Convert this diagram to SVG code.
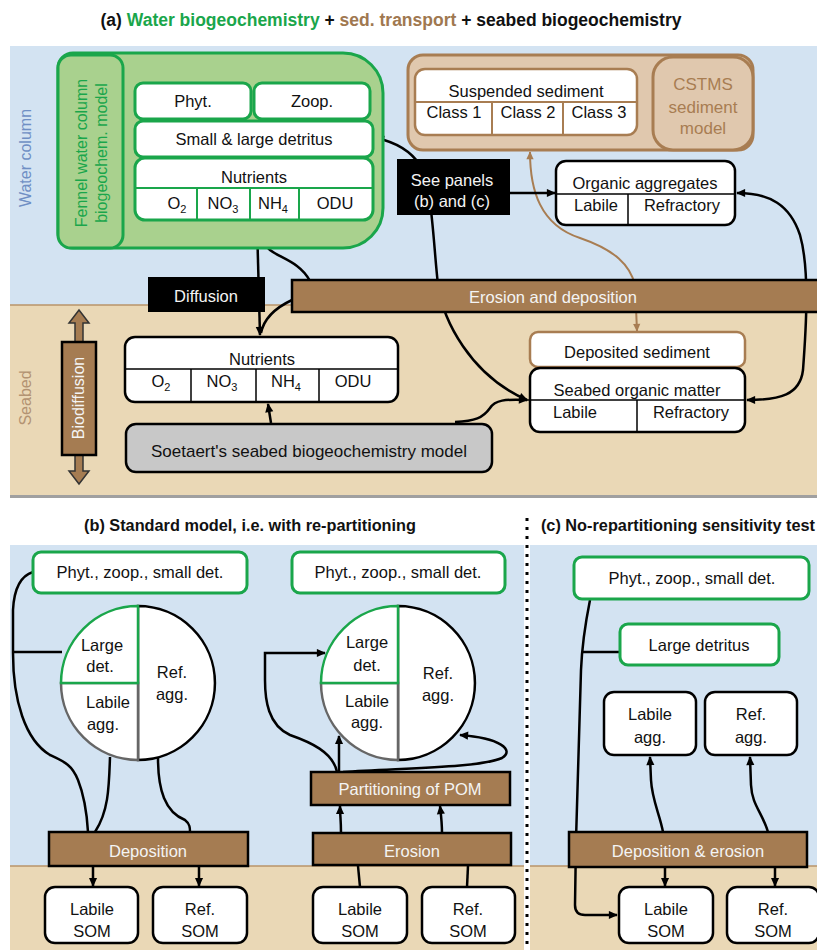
<svg xmlns="http://www.w3.org/2000/svg" width="817" height="950" viewBox="0 0 817 950">
<defs>
<marker id="ah" viewBox="0 0 10 10" refX="9" refY="5" markerWidth="10" markerHeight="9" markerUnits="userSpaceOnUse" orient="auto-start-reverse"><path d="M0,0.5 L10,5 L0,9.5 z" fill="#000"/></marker>
<marker id="ahb" viewBox="0 0 10 10" refX="9" refY="5" markerWidth="9" markerHeight="8" markerUnits="userSpaceOnUse" orient="auto-start-reverse"><path d="M0,0.5 L10,5 L0,9.5 z" fill="#a87d52"/></marker>
</defs>
<style>
text{font-family:"Liberation Sans",Arial,sans-serif;font-size:16.5px;fill:#111;text-anchor:middle}
.ttl{font-weight:bold;font-size:16.3px}
.box{fill:#fff;stroke:#000;stroke-width:2.5}
.gbox{fill:#fff;stroke:#1aa64b;stroke-width:3}
.bbox{fill:#fff;stroke:#a87d52;stroke-width:2.5}
.bar{fill:#a57c52;stroke:#000;stroke-width:2.5}
.wt{fill:#f4f4f4}
.blk{fill:#000}
.gl{stroke:#1aa64b;stroke-width:2}
.kl{stroke:#000;stroke-width:1.5}
.bl{stroke:#a87d52;stroke-width:2}
.c{fill:none;stroke:#000;stroke-width:2.5}
.cb{fill:none;stroke:#a87d52;stroke-width:2}
.water{fill:#d3e3f2}
.sed{fill:#ead8b6}
.sub{font-size:11px}
</style>
<rect width="817" height="950" fill="#fff"/>
<g id="backgrounds">
<rect class="water" x="10" y="46" width="807" height="259"/>
<rect class="sed" x="10" y="305" width="807" height="190"/>
<rect x="10" y="495" width="807" height="3" fill="#a0a0a0"/>
<line x1="10" y1="305" x2="817" y2="305" stroke="#b8946a" stroke-width="1.5"/>
<rect class="water" x="10" y="545" width="514" height="321"/>
<rect class="sed" x="10" y="866" width="514" height="84"/>
<line x1="10" y1="866" x2="524" y2="866" stroke="#b8946a" stroke-width="1.5"/>
<rect class="water" x="530" y="545" width="287" height="321"/>
<rect class="sed" x="530" y="866" width="287" height="84"/>
<line x1="530" y1="866" x2="817" y2="866" stroke="#b8946a" stroke-width="1.5"/>
<line x1="527" y1="518" x2="527" y2="950" stroke="#000" stroke-width="3" stroke-dasharray="3,6"/>
</g>
<g id="titles">
<text class="ttl" x="391" y="26" style="font-size:17.5px">(a)  <tspan fill="#1aa64b">Water biogeochemistry</tspan> + <tspan fill="#a07850">sed. transport</tspan> + seabed biogeochemistry</text>
<text class="ttl" x="250" y="531">(b) Standard model, i.e. with re-partitioning</text>
<text class="ttl" x="678" y="531">(c) No-repartitioning sensitivity test</text>
<text x="26" y="158" transform="rotate(-90 26 158)" style="fill:#6f8fc4;font-size:16px" dy="5">Water column</text>
<text x="26" y="398" transform="rotate(-90 26 398)" style="fill:#b39372;font-size:16px" dy="5">Seabed</text>
</g>
<g id="connectors">
<path class="c" d="M257,224 L260,335" marker-start="url(#ah)" marker-end="url(#ah)"/>
<path class="c" d="M310,281 C300,262 280,258 270,250 C262,243 258,235 257,228"/>
<path class="c" d="M292,300 C275,308 264,318 261,333"/>
<path class="c" d="M376,138 C395,142 410,150 420,165 C432,185 433,240 438,285 C443,320 470,375 527,400" marker-start="url(#ah)" marker-end="url(#ah)"/>
<path class="c" d="M737,193 C770,193 790,205 800,235 C810,270 806,330 803,370 C800,395 780,400 747,400" marker-start="url(#ah)" marker-end="url(#ah)"/>
<path class="cb" d="M530,152 C530,190 540,225 580,238 C615,250 630,265 635,285 L637,331" marker-start="url(#ahb)" marker-end="url(#ahb)"/>
<path class="c" d="M271,423 L268,404" marker-end="url(#ah)"/>
<path class="c" d="M455,422 C475,421 483,418 490,408 C495,400 505,399 527,400" marker-end="url(#ah)"/>
<path class="c" d="M509,193 L555,193" marker-end="url(#ah)"/>
<path class="c" d="M33,572 C20,576 14,590 13,610 L13,653 C13,700 25,740 50,755 C65,762 72,765 78,780 C84,795 87,815 88,832"/>
<path class="c" d="M13,652 L62,652"/>
<path class="c" d="M110,757 C109,790 108,812 95,832"/>
<path class="c" d="M158,758 C158,790 165,812 185,820 C190,824 190,828 190,832"/>
<path class="c" d="M93,866 L93,886" marker-end="url(#ah)"/>
<path class="c" d="M199,866 L199,886" marker-end="url(#ah)"/>
<path class="c" d="M360,887 L358,866"/>
<path class="c" d="M467,887 L468,866"/>
<path class="c" d="M341,833 C341,820 340,815 340,806" marker-end="url(#ah)"/>
<path class="c" d="M442,833 C442,822 441,815 440,806" marker-end="url(#ah)"/>
<path class="c" d="M339,772 L339,736" marker-end="url(#ah)"/>
<path class="c" d="M337,772 C333,752 310,742 290,735 C268,725 265,700 265,680 L265,653 L325,653" marker-end="url(#ah)"/>
<path class="c" d="M343,772 C400,768 480,768 502,758 C515,750 500,738 460,735" marker-end="url(#ah)"/>
<path class="c" d="M590,600 C585,625 582,645 581,670 L576,840 L575,905 Q575,915 585,915 L617,915" marker-end="url(#ah)"/>
<path class="c" d="M582,652 L620,652"/>
<path class="c" d="M663,832 C660,815 652,800 651,780 L650,757" marker-end="url(#ah)"/>
<path class="c" d="M768,832 C762,812 752,805 751,785 L750,757" marker-end="url(#ah)"/>
<path class="c" d="M665,867 L665,886" marker-end="url(#ah)"/>
<path class="c" d="M775,867 L775,886" marker-end="url(#ah)"/>
</g>
<g id="fennel">
<path d="M73,53 H343 A40,40 0 0 1 383,93 V208 A40,40 0 0 1 343,248 H73 A15,15 0 0 1 58,233 V68 A15,15 0 0 1 73,53 Z" fill="#a9d18e" stroke="#1aa64b" stroke-width="3"/>
<rect x="58" y="55" width="65" height="193" rx="13" fill="#a9d18e" stroke="#1aa64b" stroke-width="3"/>
<text transform="rotate(-90 82 153)" x="82" y="153" dy="5" style="fill:#1aa64b;font-size:16px">Fennel water column</text>
<text transform="rotate(-90 102 153)" x="102" y="153" dy="5" style="fill:#1aa64b;font-size:16px">biogeochem. model</text>
</g>
<g id="w-phyt"><rect class="gbox" x="135" y="83" width="116" height="36" rx="8"/><text x="193" y="107">Phyt.</text></g>
<g id="w-zoop"><rect class="gbox" x="254" y="83" width="116" height="36" rx="8"/><text x="312" y="107">Zoop.</text></g>
<g id="w-detritus"><rect class="gbox" x="135" y="121" width="238" height="36" rx="8"/><text x="254" y="145">Small &amp; large detritus</text></g>
<g id="w-nutrients">
<rect class="gbox" x="135" y="158" width="238" height="62" rx="10"/>
<line class="gl" x1="135" y1="188" x2="373" y2="188"/>
<line class="gl" x1="197" y1="188" x2="197" y2="220"/>
<line class="gl" x1="250" y1="188" x2="250" y2="220"/>
<line class="gl" x1="299" y1="188" x2="299" y2="220"/>
<text x="254" y="183">Nutrients</text>
<text x="177" y="209">O<tspan class="sub" dy="4">2</tspan></text>
<text x="223" y="209">NO<tspan class="sub" dy="4">3</tspan></text>
<text x="273" y="209">NH<tspan class="sub" dy="4">4</tspan></text>
<text x="335" y="209">ODU</text>
</g>
<g id="cstms">
<rect x="408" y="55" width="345" height="95" rx="15" fill="#e0c8ae" stroke="#a87d52" stroke-width="3"/>
<rect x="653" y="57" width="100" height="93" rx="20" fill="#e0c8ae" stroke="#a87d52" stroke-width="3"/>
<text x="703" y="90" style="fill:#a87d52;font-size:17px">CSTMS</text>
<text x="703" y="113" style="fill:#a87d52;font-size:17px">sediment</text>
<text x="703" y="134" style="fill:#a87d52;font-size:17px">model</text>
</g>
<g id="susp-sed">
<rect class="bbox" x="415" y="69" width="222" height="66" rx="10"/>
<line class="bl" x1="415" y1="102" x2="637" y2="102"/>
<line class="bl" x1="492" y1="102" x2="492" y2="135"/>
<line class="bl" x1="563" y1="102" x2="563" y2="135"/>
<text x="526" y="97">Suspended sediment</text>
<text x="454" y="118">Class 1</text>
<text x="528" y="118">Class 2</text>
<text x="599" y="118">Class 3</text>
</g>
<g id="see-panels"><rect class="blk" x="397" y="159" width="113" height="56"/><text class="wt" x="452" y="186">See panels</text><text class="wt" x="452" y="207">(b) and (c)</text></g>
<g id="org-agg">
<rect class="box" x="556" y="161" width="179" height="64" rx="10"/>
<line class="kl" x1="556" y1="194" x2="735" y2="194"/>
<line class="kl" x1="628" y1="194" x2="628" y2="225"/>
<text x="645" y="189">Organic aggregates</text>
<text x="596" y="211">Labile</text>
<text x="682" y="211">Refractory</text>
</g>
<g id="erosion-deposition"><rect class="bar" x="292" y="280" width="528" height="32"/><text class="wt" x="553" y="303">Erosion and deposition</text></g>
<g id="diffusion"><rect class="blk" x="148" y="277" width="117" height="35"/><text class="wt" x="206" y="302">Diffusion</text></g>
<g id="biodiffusion">
<path d="M79,310 L89,323 L83,323 L83,342 L75,342 L75,323 L69,323 Z" fill="#a57c52" stroke="#333" stroke-width="1.5"/>
<path d="M79,484 L89,471 L83,471 L83,455 L75,455 L75,471 L69,471 Z" fill="#a57c52" stroke="#333" stroke-width="1.5"/>
<rect class="bar" x="62" y="342" width="34" height="113"/>
<text class="wt" transform="rotate(-90 79 398)" x="79" y="398" dy="5" style="font-size:16px">Biodiffusion</text>
</g>
<g id="s-nutrients">
<rect class="box" x="125" y="337" width="273" height="65" rx="10"/>
<line class="kl" x1="125" y1="369" x2="398" y2="369"/>
<line class="kl" x1="191" y1="369" x2="191" y2="402"/>
<line class="kl" x1="256" y1="369" x2="256" y2="402"/>
<line class="kl" x1="319" y1="369" x2="319" y2="402"/>
<text x="262" y="365">Nutrients</text>
<text x="161" y="387">O<tspan class="sub" dy="4">2</tspan></text>
<text x="222" y="387">NO<tspan class="sub" dy="4">3</tspan></text>
<text x="286" y="387">NH<tspan class="sub" dy="4">4</tspan></text>
<text x="353" y="387">ODU</text>
</g>
<g id="soetaert"><rect x="126" y="424" width="366" height="48" rx="10" fill="#c8c8c8" stroke="#000" stroke-width="2.5"/><text x="309" y="457" style="font-size:17px">Soetaert's seabed biogeochemistry model</text></g>
<g id="dep-sed"><rect class="bbox" x="530" y="332" width="215" height="35" rx="8"/><text x="637" y="358">Deposited sediment</text></g>
<g id="seabed-om">
<rect class="box" x="530" y="368" width="215" height="64" rx="10"/>
<line class="kl" x1="527" y1="400" x2="745" y2="400"/>
<line class="kl" x1="637" y1="400" x2="637" y2="432"/>
<text x="637" y="396">Seabed organic matter</text>
<text x="575" y="418">Labile</text>
<text x="691" y="418">Refractory</text>
</g>
<g id="b1-phyt"><rect class="gbox" x="33" y="552" width="214" height="41" rx="8"/><text x="140" y="578">Phyt., zoop., small det.</text></g>
<g id="b1-pie">
<path d="M138,606 A77,77 0 0 1 138,760 Z" fill="#fff" stroke="#000" stroke-width="2.5"/>
<path d="M138,683 H61 A77,77 0 0 0 138,760 Z" fill="#fff" stroke="#666" stroke-width="2.5"/>
<path d="M138,683 V606 A77,77 0 0 0 61,683 Z" fill="#fff" stroke="#1aa64b" stroke-width="2.5"/>
<text x="102" y="651">Large</text><text x="100" y="672">det.</text>
<text x="108" y="708">Labile</text><text x="103" y="730">agg.</text>
<text x="172" y="678">Ref.</text><text x="172" y="700">agg.</text>
</g>
<g id="b1-deposition"><rect class="bar" x="49" y="832" width="199" height="34"/><text class="wt" x="148" y="857">Deposition</text></g>
<g id="b1-labile-som"><rect class="box" x="45" y="887" width="93" height="56" rx="10"/><text x="92" y="915">Labile</text><text x="92" y="937">SOM</text></g>
<g id="b1-ref-som"><rect class="box" x="153" y="887" width="94" height="56" rx="10"/><text x="200" y="915">Ref.</text><text x="200" y="937">SOM</text></g>
<g id="b2-phyt"><rect class="gbox" x="292" y="552" width="213" height="41" rx="8"/><text x="398" y="578">Phyt., zoop., small det.</text></g>
<g id="b2-pie">
<path d="M398,606 A77,77 0 0 1 398,760 Z" fill="#fff" stroke="#000" stroke-width="2.5"/>
<path d="M398,683 H321 A77,77 0 0 0 398,760 Z" fill="#fff" stroke="#666" stroke-width="2.5"/>
<path d="M398,683 V606 A77,77 0 0 0 321,683 Z" fill="#fff" stroke="#1aa64b" stroke-width="2.5"/>
<text x="367" y="648">Large</text><text x="367" y="671">det.</text>
<text x="367" y="707">Labile</text><text x="367" y="728">agg.</text>
<text x="438" y="679">Ref.</text><text x="438" y="701">agg.</text>
</g>
<g id="b2-partitioning"><rect class="bar" x="311" y="772" width="199" height="33"/><text class="wt" x="410" y="795">Partitioning of POM</text></g>
<g id="b2-erosion"><rect class="bar" x="313" y="833" width="198" height="32"/><text class="wt" x="412" y="857">Erosion</text></g>
<g id="b2-labile-som"><rect class="box" x="313" y="887" width="94" height="56" rx="10"/><text x="360" y="915">Labile</text><text x="360" y="937">SOM</text></g>
<g id="b2-ref-som"><rect class="box" x="422" y="887" width="93" height="56" rx="10"/><text x="468" y="915">Ref.</text><text x="468" y="937">SOM</text></g>
<g id="c-phyt"><rect class="gbox" x="574" y="557" width="235" height="42" rx="8"/><text x="692" y="584">Phyt., zoop., small det.</text></g>
<g id="c-large-det"><rect class="gbox" x="620" y="624" width="159" height="41" rx="8"/><text x="699" y="651">Large detritus</text></g>
<g id="c-labile-agg"><rect class="box" x="604" y="692" width="92" height="63" rx="10"/><text x="650" y="720">Labile</text><text x="650" y="743">agg.</text></g>
<g id="c-ref-agg"><rect class="box" x="705" y="692" width="92" height="63" rx="10"/><text x="751" y="720">Ref.</text><text x="751" y="743">agg.</text></g>
<g id="c-dep-ero"><rect class="bar" x="569" y="832" width="238" height="35"/><text class="wt" x="688" y="857">Deposition &amp; erosion</text></g>
<g id="c-labile-som"><rect class="box" x="619" y="887" width="94" height="56" rx="10"/><text x="666" y="915">Labile</text><text x="666" y="937">SOM</text></g>
<g id="c-ref-som"><rect class="box" x="727" y="887" width="92" height="56" rx="10"/><text x="773" y="915">Ref.</text><text x="773" y="937">SOM</text></g>
</svg>
